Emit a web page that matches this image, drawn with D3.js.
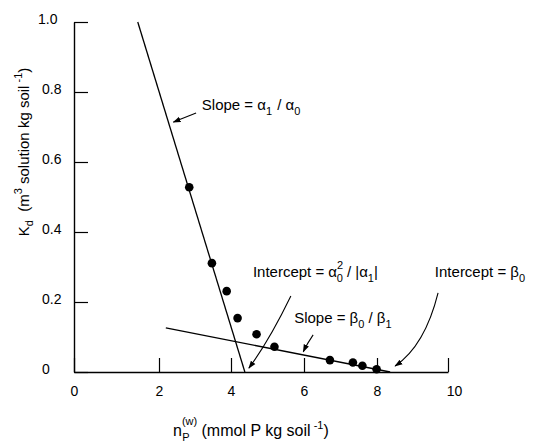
<!DOCTYPE html>
<html>
<head>
<meta charset="utf-8">
<script src="https://cdn.jsdelivr.net/npm/d3@7"></script>
<style>
  body { margin: 0; background: #fff; }
  svg { font-family: "Liberation Sans", Arial, Helvetica, sans-serif; }
</style>
</head>
<body>
<div id="chart"></div>
<script>
// measured points, Kd vs n_P(w)
const nP = [2.84, 3.47, 3.88, 4.18, 4.70, 5.19, 6.71, 7.34, 7.60, 7.99];
const kd = [0.528, 0.311, 0.231, 0.154, 0.108, 0.072, 0.034, 0.027, 0.018, 0.008];

// the two fitted lines
const steepX = [1.5, 4.38];
const steepY = [1.0, 0];
const shallowX = [2.19, 8.37];
const shallowY = [0.126, 0];

// tick labels
const xTicks = [0, 2, 4, 6, 8, 10];
const yTicks = [0, 0.2, 0.4, 0.6, 0.8, 1.0];

const width = 534;
const height = 444;

const svg = d3.select("#chart")
  .append("svg")
  .attr("width", width)
  .attr("height", height);

// x axis of the original is not quite even between 0 and 2
const x = d3.scaleLinear()
  .domain([0, 2, 4, 6, 8, 10])
  .range([74, 159, 231, 304, 377, 448]);

const y = d3.scaleLinear()
  .domain([0, 1])
  .range([372, 22]);

// arrowhead
svg.append("defs").append("marker")
  .attr("id", "arrow")
  .attr("viewBox", "0 0 10 10")
  .attr("refX", 9).attr("refY", 5)
  .attr("markerWidth", 8).attr("markerHeight", 8)
  .attr("markerUnits", "userSpaceOnUse")
  .attr("orient", "auto")
  .append("path")
  .attr("d", "M0,1.5 L10,5 L0,8.5 Z")
  .attr("fill", "#000");

// y axis, ticks pointing into the plot
const yAxis = svg.append("g")
  .attr("transform", `translate(${x(0)},0)`)
  .call(d3.axisLeft(y).tickValues(yTicks)
    .tickSizeInner(-14).tickSizeOuter(0)
    .tickFormat(d => d === 0 ? "0" : d3.format(".1f")(d)));
yAxis.select(".domain").attr("stroke-width", 1.4);
yAxis.selectAll(".tick line").attr("stroke-width", 1.2);
yAxis.selectAll(".tick text")
  .attr("x", -32).attr("dy", "0.1em")
  .attr("text-anchor", "start")
  .attr("font-size", 14)
  .attr("fill", "#000");
yAxis.selectAll(".tick").filter(d => d === 1).select("text").attr("x", -36);

// x axis
const xAxis = svg.append("g")
  .attr("transform", `translate(0,${y(0)})`)
  .call(d3.axisBottom(x).tickValues(xTicks)
    .tickSizeInner(-14).tickSizeOuter(0)
    .tickFormat(d3.format("d")));
xAxis.select(".domain").attr("stroke-width", 1.4);
xAxis.selectAll(".tick line").attr("stroke-width", 1.2);
xAxis.selectAll(".tick text")
  .attr("y", 14)
  .attr("font-size", 14)
  .attr("fill", "#000");
xAxis.selectAll(".tick").filter(d => d === 10).select("text").attr("dx", 6);

// fitted lines
const line = d3.line().x(d => x(d[0])).y(d => y(d[1]));

svg.append("path")
  .datum(d3.zip(steepX, steepY))
  .attr("d", line)
  .attr("fill", "none")
  .attr("stroke", "#000")
  .attr("stroke-width", 1.3);

svg.append("path")
  .datum(d3.zip(shallowX, shallowY))
  .attr("d", line)
  .attr("fill", "none")
  .attr("stroke", "#000")
  .attr("stroke-width", 1.3);

// points
svg.selectAll("circle")
  .data(d3.zip(nP, kd))
  .enter()
  .append("circle")
  .attr("cx", d => x(d[0]))
  .attr("cy", d => y(d[1]))
  .attr("r", 4.3)
  .attr("fill", "#000");

// annotations (text position, arrow start, control, end in data units)
const fs = 15;

function label(px, py, parts) {
  const t = svg.append("text")
    .attr("x", x(px)).attr("y", y(py))
    .attr("font-size", fs)
    .attr("fill", "#000");
  parts.forEach(p => {
    t.append("tspan")
      .attr("dy", p[1] || 0)
      .attr("font-size", p[2] || fs)
      .attr("dx", p[3] || 0)
      .text(p[0]);
  });
  return t;
}

function arrow(a, c, b) {
  const p = d3.path();
  p.moveTo(x(a[0]), y(a[1]));
  if (c) p.quadraticCurveTo(x(c[0]), y(c[1]), x(b[0]), y(b[1]));
  else p.lineTo(x(b[0]), y(b[1]));
  svg.append("path")
    .attr("d", p.toString())
    .attr("fill", "none")
    .attr("stroke", "#000")
    .attr("stroke-width", 1.1)
    .attr("marker-end", "url(#arrow)");
}

// Slope = α1 / α0
label(3.19, 0.748, [["Slope = α"], ["1", 5, 11], [" / α", -5, 0, 1], ["0", 5, 11]]);
arrow([3.03, 0.74], null, [2.4, 0.714]);

// Intercept = α0² / |α1|
label(4.60, 0.271, [["Intercept = α"], ["2", -8, 11, 0], ["0", 13, 11, -6.5], [" / |α", -5], ["1", 5, 11], ["|", -5]]);
arrow([5.64, 0.217], [5.05, 0.09], [4.49, 0.011]);

// Slope = β0 / β1
label(5.73, 0.14, [["Slope = β"], ["0", 5, 11], [" / β", -5], ["1", 5, 11]]);
arrow([6.25, 0.106], [6.08, 0.08], [5.98, 0.058]);

// Intercept = β0
label(9.63, 0.271, [["Intercept = β"], ["0", 5, 11]]);
arrow([9.72, 0.226], [9.35, 0.075], [8.51, 0.017]);

// axis titles
const yt = svg.append("text")
  .attr("transform", "translate(29,152) rotate(-90)")
  .attr("text-anchor", "middle")
  .attr("font-size", fs)
  .attr("fill", "#000");
yt.append("tspan").text("K");
yt.append("tspan").attr("dy", 4).attr("font-size", 11).text("d");
yt.append("tspan").attr("dy", -4).text("\u00a0\u00a0(m");
yt.append("tspan").attr("dy", -7).attr("font-size", 11).text("3");
yt.append("tspan").attr("dy", 7).text(" solution kg soil");
yt.append("tspan").attr("dy", -7).attr("font-size", 11).text(" -1");
yt.append("tspan").attr("dy", 7).text(")");

const xt = svg.append("text")
  .attr("x", 173).attr("y", 436)
  .attr("font-size", 16)
  .attr("fill", "#000");
xt.append("tspan").text("n");
xt.append("tspan").attr("dy", -11).attr("font-size", 11).text("(w)");
xt.append("tspan").attr("dy", 16).attr("dx", -15).attr("font-size", 11).text("P");
xt.append("tspan").attr("dy", -5).attr("dx", 12).text("(mmol P kg soil");
xt.append("tspan").attr("dy", -7).attr("font-size", 11).text(" -1");
xt.append("tspan").attr("dy", 7).text(")");
</script>
</body>
</html>
